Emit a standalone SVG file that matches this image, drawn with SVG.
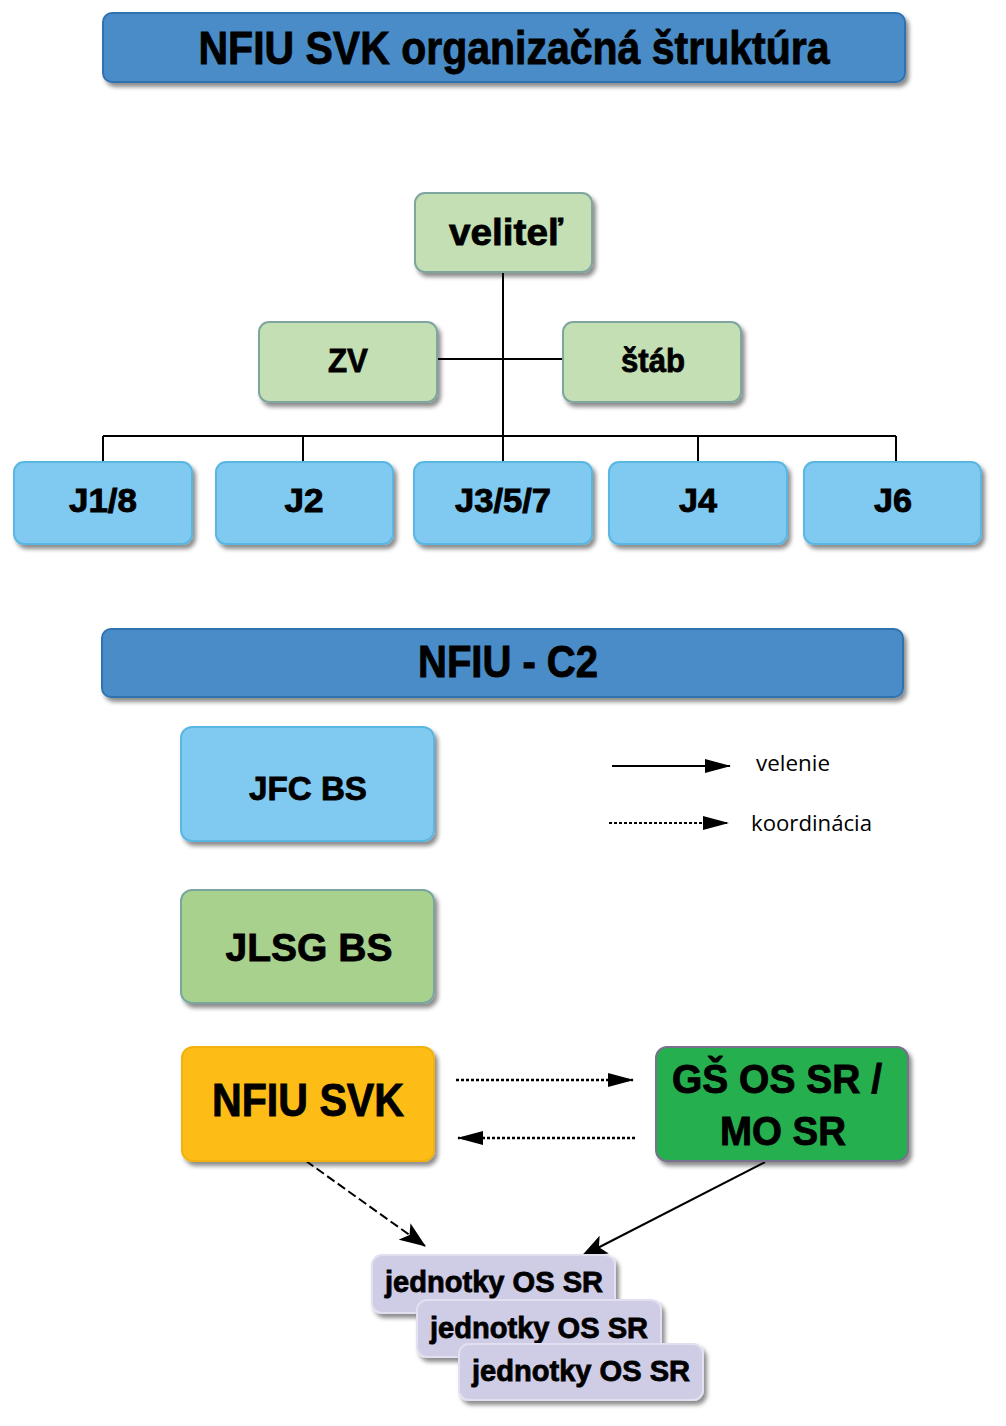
<svg xmlns="http://www.w3.org/2000/svg" width="1006" height="1426" viewBox="0 0 1006 1426">
<defs>
<filter id="sh" x="-10%" y="-10%" width="125%" height="135%">
<feDropShadow dx="3" dy="4" stdDeviation="2.2" flood-color="#000" flood-opacity="0.45"/>
</filter>
<marker id="ah" viewBox="0 0 26 14" markerWidth="26" markerHeight="14" refX="25" refY="7" orient="auto" markerUnits="userSpaceOnUse">
<path d="M0,0 L26,7 L0,14 Z" fill="#000"/>
</marker>
<marker id="ah2" viewBox="0 0 26 20" markerWidth="26" markerHeight="20" refX="25" refY="10" orient="auto" markerUnits="userSpaceOnUse">
<path d="M0,0 L26,10 L0,20 L6,10 Z" fill="#000"/>
</marker>
</defs>
<style>
.bar{fill:#4a8cc8;stroke:#2f73b0;stroke-width:2}
.g{fill:#c5dfb4;stroke:#7ea69e;stroke-width:2}
.b{fill:#80c9f0;stroke:#5ab7e2;stroke-width:2}
.gl{fill:#a9d18e;stroke:#7aa6a0;stroke-width:2}
.u{fill:#cfcce6;stroke:#e2e0f0;stroke-width:2}
.n{font-family:"Liberation Sans Narrow","Liberation Sans",Arial,sans-serif;font-weight:bold;fill:#000;stroke:#000;stroke-width:0.9;text-anchor:middle}
.w{font-family:"Liberation Sans",Arial,sans-serif;font-weight:bold;fill:#000;stroke:#000;stroke-width:0.8;text-anchor:middle}
.r{font-family:"Open Sans","Liberation Sans",sans-serif;fill:#000}
.ln{stroke:#000;stroke-width:2;fill:none}
.dot{stroke:#000;stroke-width:2.4;fill:none;stroke-dasharray:3,2}
</style>

<g id="title">
<rect class="bar" x="103" y="13" width="802" height="69" rx="9" filter="url(#sh)"/>
<text class="n" x="514" y="64" font-size="47" textLength="631" lengthAdjust="spacingAndGlyphs">NFIU SVK organizačná štruktúra</text>
</g>

<g id="connectors">
<line class="ln" x1="503" y1="272" x2="503" y2="462"/>
<line class="ln" x1="437" y1="359" x2="563" y2="359"/>
<line class="ln" x1="103" y1="436" x2="896" y2="436"/>
<line class="ln" x1="103" y1="436" x2="103" y2="462"/>
<line class="ln" x1="303" y1="436" x2="303" y2="462"/>
<line class="ln" x1="698" y1="436" x2="698" y2="462"/>
<line class="ln" x1="896" y1="436" x2="896" y2="462"/>
<line class="dot" x1="456" y1="1080" x2="633" y2="1080" marker-end="url(#ah)"/>
<line class="dot" x1="635" y1="1138" x2="458" y2="1138" marker-end="url(#ah)"/>
<line class="ln" x1="306" y1="1161" x2="425" y2="1246" stroke-dasharray="9,4" marker-end="url(#ah2)"/>
<line class="ln" x1="765" y1="1162" x2="582" y2="1256" stroke-width="2.5" marker-end="url(#ah2)"/>
</g>

<g id="velitel">
<rect class="g" x="415" y="193" width="177" height="79" rx="10" filter="url(#sh)"/>
<text class="w" x="506" y="245" font-size="37" textLength="114" lengthAdjust="spacingAndGlyphs">veliteľ</text>
</g>
<g id="zv">
<rect class="g" x="259" y="322" width="178" height="80" rx="10" filter="url(#sh)"/>
<text class="w" x="348" y="372" font-size="33" textLength="40" lengthAdjust="spacingAndGlyphs">ZV</text>
</g>
<g id="stab">
<rect class="g" x="563" y="322" width="178" height="80" rx="10" filter="url(#sh)"/>
<text class="w" x="653" y="372" font-size="33" textLength="64" lengthAdjust="spacingAndGlyphs">štáb</text>
</g>

<g id="j18">
<rect class="b" x="14" y="462" width="178" height="82" rx="10" filter="url(#sh)"/>
<text class="n" x="103" y="512" font-size="34" textLength="68" lengthAdjust="spacingAndGlyphs">J1/8</text>
</g>
<g id="j2">
<rect class="b" x="216" y="462" width="177" height="82" rx="10" filter="url(#sh)"/>
<text class="n" x="304" y="512" font-size="34" textLength="39" lengthAdjust="spacingAndGlyphs">J2</text>
</g>
<g id="j357">
<rect class="b" x="414" y="462" width="178" height="82" rx="10" filter="url(#sh)"/>
<text class="n" x="503" y="512" font-size="34" textLength="96" lengthAdjust="spacingAndGlyphs">J3/5/7</text>
</g>
<g id="j4">
<rect class="b" x="609" y="462" width="178" height="82" rx="10" filter="url(#sh)"/>
<text class="n" x="698" y="512" font-size="34" textLength="38" lengthAdjust="spacingAndGlyphs">J4</text>
</g>
<g id="j6">
<rect class="b" x="804" y="462" width="177" height="82" rx="10" filter="url(#sh)"/>
<text class="n" x="893" y="512" font-size="34" textLength="38" lengthAdjust="spacingAndGlyphs">J6</text>
</g>

<g id="c2">
<rect class="bar" x="102" y="629" width="801" height="68" rx="9" filter="url(#sh)"/>
<text class="n" x="508" y="677" font-size="44" textLength="180" lengthAdjust="spacingAndGlyphs">NFIU - C2</text>
</g>

<g id="jfc">
<rect class="b" x="181" y="727" width="253" height="114" rx="11" filter="url(#sh)"/>
<text class="w" x="308" y="800" font-size="33" textLength="118" lengthAdjust="spacingAndGlyphs">JFC BS</text>
</g>
<g id="jlsg">
<rect class="gl" x="181" y="890" width="253" height="113" rx="11" filter="url(#sh)"/>
<text class="w" x="309" y="961" font-size="39" textLength="167" lengthAdjust="spacingAndGlyphs">JLSG BS</text>
</g>

<g id="legend">
<line class="ln" x1="612" y1="766" x2="730" y2="766" marker-end="url(#ah)"/>
<text class="r" x="756" y="771" font-size="22" textLength="74" lengthAdjust="spacingAndGlyphs">velenie</text>
<line class="ln" x1="609" y1="823" x2="728" y2="823" stroke-dasharray="3,2" marker-end="url(#ah)"/>
<text class="r" x="751" y="831" font-size="22" textLength="121" lengthAdjust="spacingAndGlyphs">koordinácia</text>
</g>

<g id="nfiusvk">
<rect x="182" y="1047" width="252" height="114" rx="11" fill="#fdbd13" stroke="#f2b10f" stroke-width="2" filter="url(#sh)"/>
<text class="n" x="308" y="1116" font-size="46" textLength="192" lengthAdjust="spacingAndGlyphs">NFIU SVK</text>
</g>
<g id="gs">
<rect x="656" y="1047" width="252" height="114" rx="11" fill="#25af4f" stroke="#7a6f8f" stroke-width="2" filter="url(#sh)"/>
<text class="n" x="777" y="1093" font-size="40" textLength="210" lengthAdjust="spacingAndGlyphs">GŠ OS SR /</text>
<text class="n" x="783" y="1145" font-size="40" textLength="126" lengthAdjust="spacingAndGlyphs">MO SR</text>
</g>

<g id="jednotky1">
<rect class="u" x="372" y="1255" width="243" height="58" rx="10" filter="url(#sh)"/>
<text class="w" x="494" y="1292" font-size="29" textLength="218" lengthAdjust="spacingAndGlyphs">jednotky OS SR</text>
</g>
<g id="jednotky2">
<rect class="u" x="417" y="1300" width="244" height="57" rx="10" filter="url(#sh)"/>
<text class="w" x="539" y="1338" font-size="29" textLength="218" lengthAdjust="spacingAndGlyphs">jednotky OS SR</text>
</g>
<g id="jednotky3">
<rect class="u" x="459" y="1344" width="244" height="56" rx="10" filter="url(#sh)"/>
<text class="w" x="581" y="1381" font-size="29" textLength="218" lengthAdjust="spacingAndGlyphs">jednotky OS SR</text>
</g>
</svg>
